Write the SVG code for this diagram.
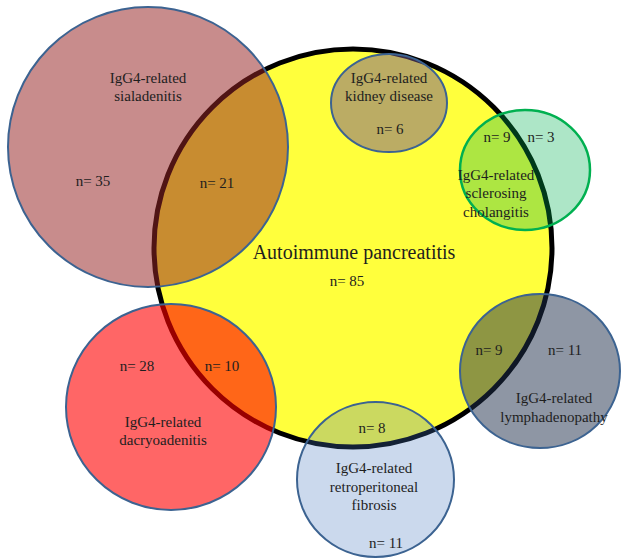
<svg xmlns="http://www.w3.org/2000/svg" width="622" height="558" viewBox="0 0 622 558">
<style>
.t{font-family:"Liberation Serif","Times New Roman",serif;font-size:15px;fill:#1e1e1e;text-anchor:middle}
.big{font-size:20px}
.ring{stroke:#3c6391;stroke-width:2}
</style>
<rect width="622" height="558" fill="#ffffff"/>
<g id="aip">
<circle cx="353" cy="248" r="199" fill="#ffff3c" stroke="#000" stroke-width="5"/>
<text class="t big" x="354" y="259">Autoimmune pancreatitis</text>
<text class="t" x="347" y="286">n= 85</text>
</g>
<g id="sialadenitis">
<circle class="ring" cx="148" cy="147" r="140" fill="#972626" fill-opacity="0.53"/>
<text class="t" x="148" y="83">IgG4-related</text>
<text class="t" x="148" y="101">sialadenitis</text>
<text class="t" x="93" y="186">n= 35</text>
<text class="t" x="217" y="188">n= 21</text>
</g>
<g id="kidney">
<ellipse class="ring" cx="389" cy="103" rx="58" ry="49" fill="#785a8c" fill-opacity="0.5" stroke-width="2.5"/>
<text class="t" x="389" y="83">IgG4-related</text>
<text class="t" x="389" y="101">kidney disease</text>
<text class="t" x="390" y="134">n= 6</text>
</g>
<g id="cholangitis">
<ellipse cx="525" cy="170" rx="65" ry="60" fill="#00b050" fill-opacity="0.32" stroke="#00b050" stroke-width="2.5"/>
<text class="t" x="497" y="142">n= 9</text>
<text class="t" x="541" y="142">n= 3</text>
<text class="t" x="496" y="180">IgG4-related</text>
<text class="t" x="496" y="198">sclerosing</text>
<text class="t" x="496" y="217">cholangitis</text>
</g>
<g id="dacryoadenitis">
<ellipse class="ring" cx="171" cy="407" rx="105" ry="103" fill="#ff0000" fill-opacity="0.6"/>
<text class="t" x="137" y="371">n= 28</text>
<text class="t" x="222" y="371">n= 10</text>
<text class="t" x="163" y="427">IgG4-related</text>
<text class="t" x="163" y="445">dacryoadenitis</text>
</g>
<g id="lymphadenopathy">
<ellipse class="ring" cx="540" cy="371" rx="80" ry="77" fill="#1e2d4a" fill-opacity="0.5"/>
<text class="t" x="489" y="355">n= 9</text>
<text class="t" x="565" y="355">n= 11</text>
<text class="t" x="554" y="403">IgG4-related</text>
<text class="t" x="554" y="422">lymphadenopathy</text>
</g>
<g id="retroperitoneal">
<ellipse class="ring" cx="375.5" cy="479.5" rx="78.5" ry="77.5" fill="#4678be" fill-opacity="0.28"/>
<text class="t" x="372" y="433">n= 8</text>
<text class="t" x="374" y="473">IgG4-related</text>
<text class="t" x="374" y="492">retroperitoneal</text>
<text class="t" x="374" y="510">fibrosis</text>
<text class="t" x="386" y="548">n= 11</text>
</g>
</svg>
